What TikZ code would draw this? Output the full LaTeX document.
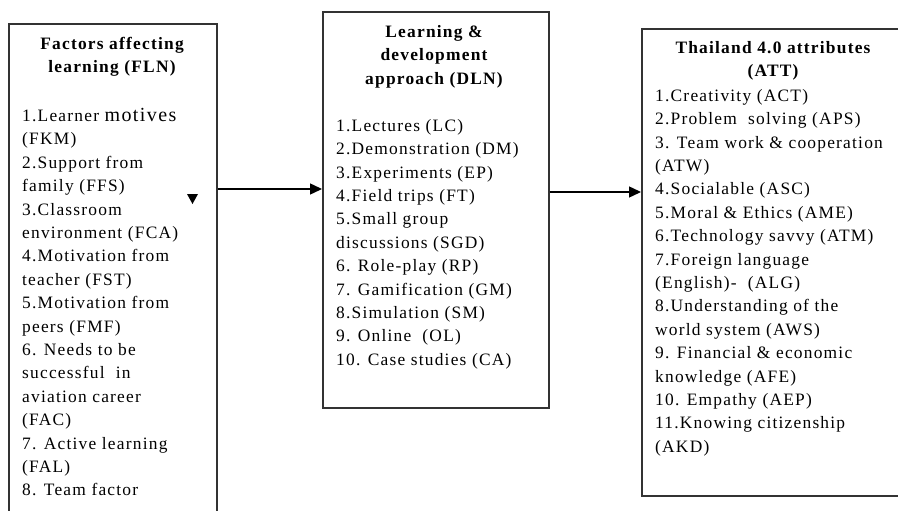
\documentclass[tikz,border=0pt]{standalone}
\usepackage{fontspec}
\setmainfont{Liberation Serif}[LetterSpace=7]
\usetikzlibrary{arrows.meta}
\begin{document}
\begin{tikzpicture}[x=1pt,y=-1pt,
  box/.style={draw=black!80, line width=1.7pt, inner sep=0pt, anchor=north west},
  txt/.style={inner sep=0pt, align=left, anchor=north west, font=\fontsize{17.4}{23.4}\selectfont},
  ttl/.style={inner sep=0pt, align=center, anchor=north, font=\bfseries\fontsize{17.4}{23.4}\selectfont},
  conn/.style={line width=1.4pt, draw=black, -{Triangle[length=12pt,width=11pt]}}]
\useasboundingbox (0,0) rectangle (898,511);
\clip (0,0) rectangle (898,511);
% boxes
\node[box, minimum width=208pt, minimum height=540pt] (fln) at (8,23) {};
\node[box, minimum width=226pt, minimum height=396pt] (dln) at (322,11) {};
\node[box, minimum width=290pt, minimum height=467pt] (att) at (641,28) {};
% box 1 text
\node[ttl] (flnT) at (112,37) {Factors affecting\\learning (FLN)};
\node[txt] (flnL) at (22,108) {1.Learner {\fontsize{20}{23.4}\selectfont motives}\\(FKM)\\2.Support from\\family (FFS)\\3.Classroom\\environment (FCA)\\4.Motivation from\\teacher (FST)\\5.Motivation from\\peers (FMF)\\6. Needs to be\\successful\ \ in\\aviation career\\(FAC)\\7. Active learning\\(FAL)\\8. Team factor};
% box 2 text
\node[ttl] (dlnT) at (434,25) {Learning \&\\development\\approach (DLN)};
\node[txt] (dlnL) at (336,119) {1.Lectures (LC)\\2.Demonstration (DM)\\3.Experiments (EP)\\4.Field trips (FT)\\5.Small group\\discussions (SGD)\\6. Role-play (RP)\\7. Gamification (GM)\\8.Simulation (SM)\\9. Online\ \ (OL)\\10. Case studies (CA)};
% box 3 text
\node[ttl] (attT) at (773,41) {Thailand 4.0 attributes\\(ATT)};
\node[txt] (attL) at (655,89) {1.Creativity (ACT)\\2.Problem\ \ solving (APS)\\3. Team work \& cooperation\\(ATW)\\4.Socialable (ASC)\\5.Moral \& Ethics (AME)\\6.Technology savvy (ATM)\\7.Foreign language\\(English)-\ \ (ALG)\\8.Understanding of the\\world system\ (AWS)\\9. Financial \& economic\\knowledge (AFE)\\10. Empathy (AEP)\\11.Knowing citizenship\\(AKD)};
% small marker
\fill[black] (187,194) -- (198,194) -- (192.5,204) -- cycle;
% connectors
\coordinate (y1) at (0,189);
\coordinate (y2) at (0,192);
\draw[conn] (fln.east |- y1) -- (dln.west |- y1);
\draw[conn] (dln.east |- y2) -- (att.west |- y2);
\end{tikzpicture}
\end{document}
